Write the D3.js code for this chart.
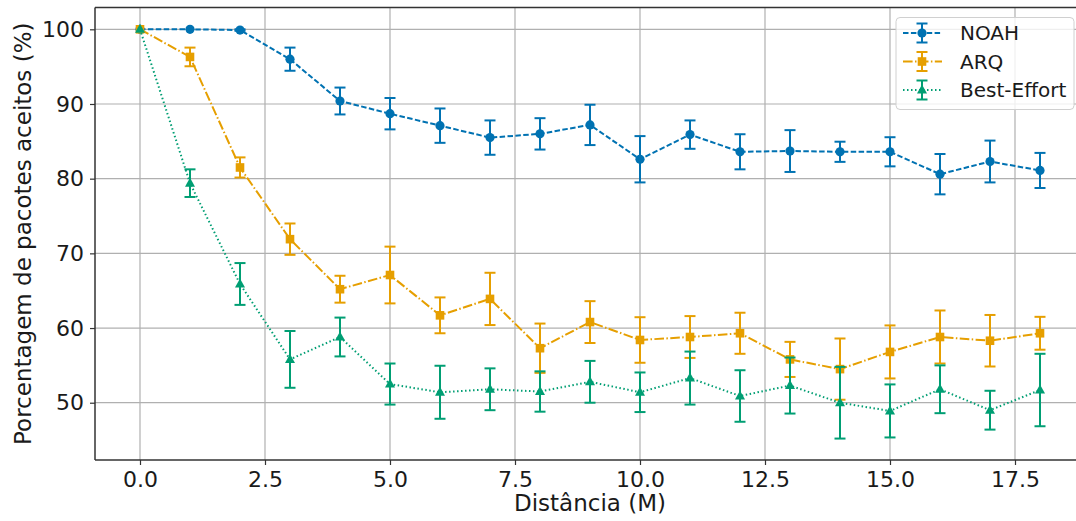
<!DOCTYPE html>
<html><head><meta charset="utf-8">
<script src="https://cdn.jsdelivr.net/npm/d3@7"></script>
<style>body{margin:0;background:#fff}svg{display:block}text{font-family:"DejaVu Sans",sans-serif;fill:#1a1a1a}</style>
</head><body><svg id="c" width="1076" height="521"></svg>
<script>
const distances = [0,1,2,3,4,5,6,7,8,9,10,11,12,13,14,15,16,17,18];
const noahMean = [100,100,99.9,96.0,90.4,88.7,87.1,85.5,86.0,87.2,82.6,85.9,83.6,83.7,83.6,83.6,80.6,82.3,81.1];
const noahErr  = [0,0,0.1,1.55,1.8,2.1,2.3,2.3,2.1,2.7,3.1,1.9,2.35,2.8,1.35,1.95,2.7,2.8,2.35];
const arqMean  = [100,96.3,81.5,71.9,65.2,67.1,61.7,63.9,57.3,60.8,58.4,58.8,59.3,55.8,54.5,56.8,58.8,58.3,59.3];
const arqErr   = [0,1.25,1.35,2.1,1.8,3.8,2.4,3.5,3.3,2.8,3.05,2.8,2.75,2.35,4.1,3.55,3.55,3.45,2.2];
const beMean   = [100,79.4,65.9,55.8,58.8,52.5,51.4,51.8,51.5,52.8,51.4,53.3,50.9,52.3,50.0,48.9,51.8,49.0,51.7];
const beErr    = [0,1.85,2.8,3.8,2.6,2.75,3.55,2.8,2.7,2.8,2.65,3.55,3.45,3.75,4.8,3.55,3.2,2.6,4.85];
const xTicks = [0,2.5,5,7.5,10,12.5,15,17.5];
const yTicks = [50,60,70,80,90,100];
const seriesNames = ["NOAH","ARQ","Best-Effort"];

const svg = d3.select("#c");
const L=95, R=1085, T=7.5, B=460;
const x = d3.scaleLinear().domain([-0.9,18.9]).range([L,R]);
const y = d3.scaleLinear().domain([42.33,102.92]).range([B,T]);

const series = [
  {name:seriesNames[0], mean:noahMean, err:noahErr, color:"#0072b2", dash:"5.5,2.4", marker:"circle"},
  {name:seriesNames[1], mean:arqMean, err:arqErr, color:"#e69f00", dash:"9.6,2.4,1.5,2.4", marker:"square"},
  {name:seriesNames[2], mean:beMean, err:beErr, color:"#009e73", dash:"1.5,2.5", marker:"triangle"}
];

// grid
const g = svg.append("g");
g.selectAll(".gx").data(xTicks).enter().append("line")
  .attr("x1",d=>x(d)).attr("x2",d=>x(d)).attr("y1",T).attr("y2",B)
  .attr("stroke","#b0b0b0").attr("stroke-width",1.2);
g.selectAll(".gy").data(yTicks).enter().append("line")
  .attr("x1",L).attr("x2",R).attr("y1",d=>y(d)).attr("y2",d=>y(d))
  .attr("stroke","#b0b0b0").attr("stroke-width",1.2);

// axes
const xa = svg.append("g").attr("transform",`translate(0,${B})`)
  .call(d3.axisBottom(x).tickValues(xTicks).tickFormat(d3.format(".1f")).tickSize(5).tickPadding(6));
const ya = svg.append("g").attr("transform",`translate(${L},0)`)
  .call(d3.axisLeft(y).tickValues(yTicks).tickSize(5).tickPadding(6));
[xa,ya].forEach(a=>{
  a.select(".domain").remove();
  a.selectAll("line").attr("stroke","#333").attr("stroke-width",1.2);
  a.selectAll("text").style("font-size","22px").attr("fill","#1a1a1a").style("font-family","DejaVu Sans");
});
// spines
svg.append("line").attr("x1",L).attr("x2",L).attr("y1",T).attr("y2",B).attr("stroke","#333").attr("stroke-width",1.5);
svg.append("line").attr("x1",L).attr("x2",R).attr("y1",B).attr("y2",B).attr("stroke","#333").attr("stroke-width",1.5);
svg.append("line").attr("x1",L).attr("x2",R).attr("y1",T).attr("y2",T).attr("stroke","#333").attr("stroke-width",1.5);

svg.append("text").attr("x",(L+R)/2).attr("y",511).attr("text-anchor","middle")
  .style("font-size","23px").text("Distância (M)");
svg.append("text").attr("transform",`translate(31,${(T+B)/2}) rotate(-90)`).attr("text-anchor","middle")
  .style("font-size","23px").text("Porcentagem de pacotes aceitos (%)");

function drawMarker(sel, type, color, cx, cy){
  if(type==="circle") sel.append("circle").attr("cx",cx).attr("cy",cy).attr("r",4.6).attr("fill",color);
  else if(type==="square") sel.append("rect").attr("x",cx-4.3).attr("y",cy-4.3).attr("width",8.6).attr("height",8.6).attr("fill",color);
  else sel.append("path").attr("d",`M${cx},${cy-5.5}L${cx+5},${cy+3.5}L${cx-5},${cy+3.5}Z`).attr("fill",color);
}

const line = d3.line();
series.forEach(s=>{
  const sg = svg.append("g");
  sg.append("path").attr("d",line(distances.map((d,i)=>[x(d),y(s.mean[i])])))
    .attr("fill","none").attr("stroke",s.color).attr("stroke-width",2).attr("stroke-dasharray",s.dash);
  distances.forEach((d,i)=>{
    if(s.err[i]<=0.05) return;
    const cx=x(d), y1=y(s.mean[i]+s.err[i]), y2=y(s.mean[i]-s.err[i]);
    sg.append("line").attr("x1",cx).attr("x2",cx).attr("y1",y1).attr("y2",y2).attr("stroke",s.color).attr("stroke-width",2);
    [y1,y2].forEach(yy=>sg.append("line").attr("x1",cx-5.5).attr("x2",cx+5.5).attr("y1",yy).attr("y2",yy).attr("stroke",s.color).attr("stroke-width",2));
  });
  distances.forEach((d,i)=>drawMarker(sg,s.marker,s.color,x(d),y(s.mean[i])));
});

// legend
const lg = svg.append("g");
lg.append("rect").attr("x",896).attr("y",17.5).attr("width",178).attr("height",92).attr("rx",4)
  .attr("fill","#fff").attr("fill-opacity",0.8).attr("stroke","#d0d0d0").attr("stroke-width",1);
series.forEach((s,i)=>{
  const yy = 33 + i*28.5;
  lg.append("line").attr("x1",903).attr("x2",942).attr("y1",yy).attr("y2",yy)
    .attr("stroke",s.color).attr("stroke-width",2).attr("stroke-dasharray",s.dash);
  lg.append("line").attr("x1",922).attr("x2",922).attr("y1",yy-9.5).attr("y2",yy+9.5).attr("stroke",s.color).attr("stroke-width",2);
  [yy-9.5,yy+9.5].forEach(v=>lg.append("line").attr("x1",916.5).attr("x2",927.5).attr("y1",v).attr("y2",v).attr("stroke",s.color).attr("stroke-width",2));
  drawMarker(lg,s.marker,s.color,922,yy);
  lg.append("text").attr("x",960).attr("y",yy+7).style("font-size","20px").text(s.name);
});
</script></body></html>
